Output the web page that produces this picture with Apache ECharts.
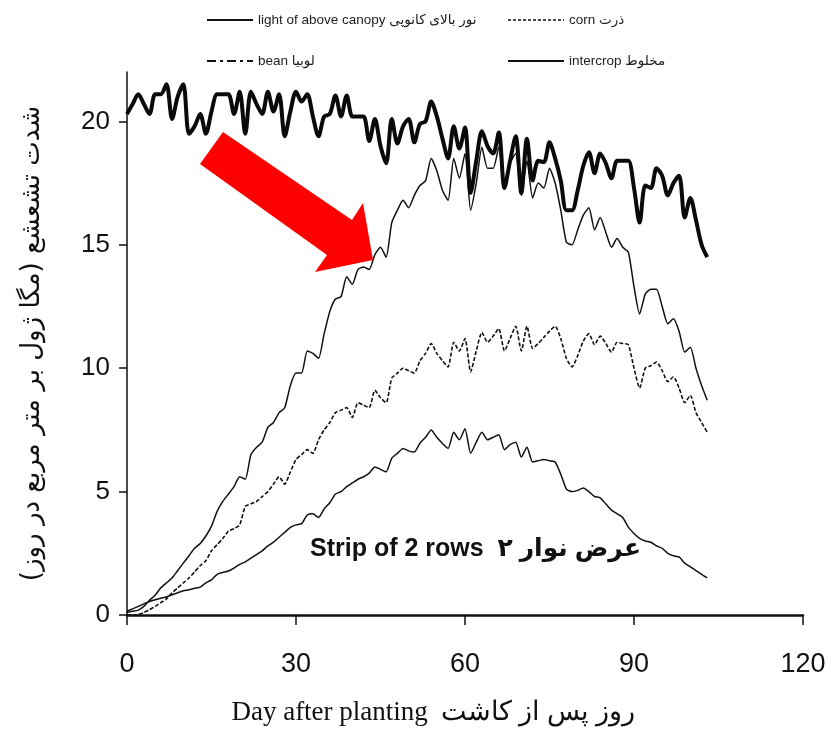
<!DOCTYPE html>
<html dir="ltr">
<head>
<meta charset="utf-8">
<script src="https://cdn.jsdelivr.net/npm/echarts@6/dist/echarts.min.js"></script>
<style>
  html, body { margin: 0; padding: 0; background: #fff; }
  #chart { width: 831px; height: 737px; }
</style>
</head>
<body>
<div id="chart"></div>
<script>
// Daily solar radiation (MJ m-2 day-1), one value per day after planting (day 0 .. 103)
const lightAboveCanopy = [
  20.3, 20.7, 21.1, 20.7, 20.3, 21.1, 21.1, 21.5, 20.1, 21.0,
  21.5, 19.5, 19.8, 20.3, 19.5, 20.4, 21.1, 21.1, 21.1, 20.3,
  21.2, 19.5, 21.2, 20.7, 20.3, 21.2, 20.4, 21.1, 19.4, 20.4,
  21.2, 20.8, 21.1, 20.2, 19.4, 20.2, 20.3, 21.05, 20.2, 21.05,
  20.2, 20.2, 20.2, 19.2, 20.1, 19.0, 18.3, 20.1, 19.1, 19.8,
  20.1, 19.15, 19.9, 20.0, 20.8, 20.2, 19.3, 18.5, 19.8, 18.9,
  19.75, 17.1, 18.4, 19.6, 19.0, 18.7, 19.55, 17.3, 18.4, 19.4,
  17.1, 19.3, 17.6, 18.4, 18.35, 19.15, 18.5, 17.6, 16.4, 16.4,
  17.2, 18.2, 18.75, 17.9, 18.7, 18.3, 17.7, 18.4, 18.4, 18.4,
  17.3, 15.9, 17.4, 17.3, 18.1, 17.8, 17.0, 17.5, 17.8, 16.1,
  16.9, 16.0, 15.0, 14.5
];
const corn = [
  0.0, 0.0, 0.02, 0.1, 0.22, 0.35, 0.5, 0.65, 0.9, 1.1,
  1.3, 1.5, 1.75, 2.0, 2.2, 2.6, 2.85, 3.1, 3.4, 3.5,
  3.65, 4.4, 4.5, 4.6, 4.8, 5.0, 5.3, 5.6, 5.3, 5.8,
  6.3, 6.5, 6.7, 6.55, 7.1, 7.5, 7.8, 8.2, 8.3, 8.4,
  8.0, 8.6, 8.5, 8.4, 9.1, 8.8, 8.6, 9.6, 9.8, 10.0,
  9.9, 9.8, 10.3, 10.6, 11.0, 10.6, 10.3, 10.05, 11.05, 10.7,
  11.2, 9.85, 10.7, 11.45, 11.05, 11.3, 11.6, 10.7, 11.2, 11.7,
  10.7, 11.7, 10.8, 11.0, 11.25, 11.5, 11.7, 11.2, 10.4, 10.05,
  10.5, 11.1, 11.4, 10.95, 11.3, 11.0, 10.65, 11.05, 11.0, 10.95,
  10.0, 9.2, 10.0, 10.1, 10.25, 9.9, 9.45, 9.65, 9.2, 8.6,
  8.9, 8.2, 7.8, 7.4
];
const bean = [
  0.15, 0.25, 0.35, 0.45, 0.55, 0.62, 0.68, 0.73, 0.82, 0.9,
  0.98, 1.02, 1.08, 1.13, 1.3, 1.42, 1.65, 1.72, 1.78, 1.9,
  2.05, 2.15, 2.3, 2.45, 2.6, 2.8, 2.95, 3.15, 3.35, 3.55,
  3.65, 3.7, 4.05, 4.1, 3.95, 4.3, 4.55, 4.9, 5.0, 5.2,
  5.35, 5.5, 5.6, 5.75, 6.0, 5.9, 5.8, 6.35, 6.55, 6.75,
  6.65, 6.6, 6.96, 7.2, 7.5, 7.2, 6.95, 6.75, 7.4, 7.1,
  7.55, 6.55, 7.0, 7.4, 7.1, 7.2, 7.3, 6.7, 6.9, 7.0,
  6.4, 6.8, 6.2, 6.25, 6.3, 6.25, 6.2, 5.7, 5.1, 5.0,
  5.05, 5.15, 5.0, 4.8, 4.75, 4.5, 4.25, 4.1, 3.95, 3.56,
  3.3, 3.1, 3.0, 2.95, 2.8, 2.7, 2.5, 2.4, 2.35, 2.1,
  1.95, 1.8, 1.65, 1.5
];
const intercrop = [
  0.1, 0.15, 0.2, 0.35, 0.6, 0.8, 1.1, 1.3, 1.5, 1.8,
  2.1, 2.4, 2.7, 2.9, 3.2, 3.6, 4.2, 4.6, 4.9, 5.2,
  5.6, 5.5, 6.5, 6.8, 7.0, 7.6, 7.8, 8.2, 8.4, 9.3,
  9.8, 9.8, 10.7, 10.6, 10.4, 11.4, 12.3, 12.8, 12.9, 13.7,
  13.4, 14.0, 14.1, 14.0, 14.6, 14.9, 14.5, 15.9, 16.4, 16.8,
  16.5, 17.0, 17.4, 17.6, 18.5, 18.0, 17.2, 16.8, 18.5, 17.7,
  18.7, 16.4, 17.5, 18.95, 18.1, 18.1, 18.95, 17.3, 18.3, 18.7,
  17.0, 18.4, 16.9, 17.5, 17.3, 18.1, 17.5, 16.4, 15.1, 15.0,
  15.6, 16.2, 16.5, 15.6, 16.1, 15.5, 14.9, 15.25, 14.9, 14.7,
  13.3, 12.2, 13.0, 13.2, 13.2, 12.5, 11.8, 12.0, 11.5, 10.65,
  10.85, 10.0, 9.3, 8.7
];

const xTicks = [0, 30, 60, 90, 120];
const yTicks = [0, 5, 10, 15, 20];

const seriesNames = {
  light: 'light of above canopy نور بالای کانوپی',
  corn: 'corn ذرت',
  bean: 'bean لوبیا',
  intercrop: 'intercrop مخلوط'
};

const sans = "'Liberation Sans Narrow', 'Arial Narrow', 'Liberation Sans', 'DejaVu Sans', sans-serif";
const serif = "'Liberation Serif', 'DejaVu Serif', serif";

const toPairs = arr => arr.map((v, day) => [day, v]);

const chart = echarts.init(document.getElementById('chart'), null, { renderer: 'canvas' });

const legendText = { fontFamily: sans, fontSize: 13.5, color: '#222' };
// legend keys show only the line sample, no marker
const hiddenMarker = { opacity: 0 };

chart.setOption({
  animation: false,
  backgroundColor: '#fff',
  color: ['#111', '#111', '#111', '#111'],
  grid: { left: 127, right: 28, top: 72, bottom: 122, containLabel: false },
  legend: [
    {
      orient: 'vertical', left: 201, top: 7, itemGap: 25,
      itemWidth: 46, itemHeight: 20,
      textStyle: legendText,
      selectedMode: false,
      data: [
        { name: seriesNames.light, itemStyle: hiddenMarker, lineStyle: { width: 2, type: 'solid', color: '#111' } },
        { name: seriesNames.bean, itemStyle: hiddenMarker, lineStyle: { width: 2, type: [9, 4, 3, 4], color: '#111' } }
      ]
    },
    {
      orient: 'vertical', left: 502, top: 7, itemGap: 25,
      itemWidth: 56, itemHeight: 20,
      textStyle: legendText,
      selectedMode: false,
      data: [
        { name: seriesNames.corn, itemStyle: hiddenMarker, lineStyle: { width: 1.5, type: [3, 2], color: '#111' } },
        { name: seriesNames.intercrop, itemStyle: hiddenMarker, lineStyle: { width: 2, type: 'solid', color: '#111' } }
      ]
    }
  ],
  xAxis: {
    type: 'value', min: 0, max: 120, interval: 30,
    name: 'Day after planting  روز پس از کاشت',
    nameLocation: 'middle', nameGap: 84,
    nameTextStyle: { fontFamily: serif, fontSize: 27, color: '#111', padding: [0, 64, 0, 0] },
    axisLine: { show: true, onZero: false, lineStyle: { color: '#111', width: 2.5 } },
    axisTick: { show: true, inside: false, length: 10, lineStyle: { color: '#111', width: 1.5 }, customValues: xTicks },
    axisLabel: { margin: 36, fontFamily: sans, fontSize: 27, color: '#111', customValues: xTicks },
    splitLine: { show: false }
  },
  yAxis: {
    type: 'value', min: 0, max: 22, interval: 5,
    name: '\u200Fشدت تشعشع (مگا ژول بر متر مربع در روز)\u200F',
    nameLocation: 'middle', nameGap: 82, nameRotate: 90,
    nameTextStyle: { fontFamily: "'DejaVu Sans', 'Noto Sans', sans-serif", fontSize: 26, color: '#111' },
    axisLine: { show: true, onZero: false, lineStyle: { color: '#111', width: 1.5 } },
    axisTick: { show: true, inside: false, length: 8, lineStyle: { color: '#111', width: 1.5 }, customValues: yTicks },
    axisLabel: { margin: 17, fontFamily: sans, fontSize: 26, color: '#111', customValues: yTicks },
    splitLine: { show: false }
  },
  series: [
    {
      name: seriesNames.light, type: 'line', data: toPairs(lightAboveCanopy),
      showSymbol: false, symbol: 'none', smooth: 0.3, z: 3,
      itemStyle: { color: '#111' },
      lineStyle: { color: '#0a0a0a', width: 4 }
    },
    {
      name: seriesNames.intercrop, type: 'line', data: toPairs(intercrop),
      showSymbol: false, symbol: 'none', smooth: 0.2, z: 2,
      itemStyle: { color: '#111' },
      lineStyle: { color: '#111', width: 1.5 }
    },
    {
      name: seriesNames.corn, type: 'line', data: toPairs(corn),
      showSymbol: false, symbol: 'none', smooth: 0.2, z: 2,
      itemStyle: { color: '#111' },
      lineStyle: { color: '#111', width: 1.6, type: [4, 2] }
    },
    {
      name: seriesNames.bean, type: 'line', data: toPairs(bean),
      showSymbol: false, symbol: 'none', smooth: 0.2, z: 2,
      itemStyle: { color: '#111' },
      lineStyle: { color: '#111', width: 1.5 }
    }
  ],
  graphic: [
    {
      // red pointer arrow
      type: 'polygon', z: 10,
      shape: { points: [[223, 132], [352, 220], [363, 203], [373, 260], [315, 272], [327, 255], [200, 164]] },
      style: { fill: '#ff0000' }
    },
    {
      type: 'text', z: 10, left: 310, top: 537,
      style: {
        text: 'Strip of 2 rows  عرض نوار ۲',
        font: "bold 25px " + sans,
        fill: '#111'
      }
    }
  ]
});
</script>
</body>
</html>
